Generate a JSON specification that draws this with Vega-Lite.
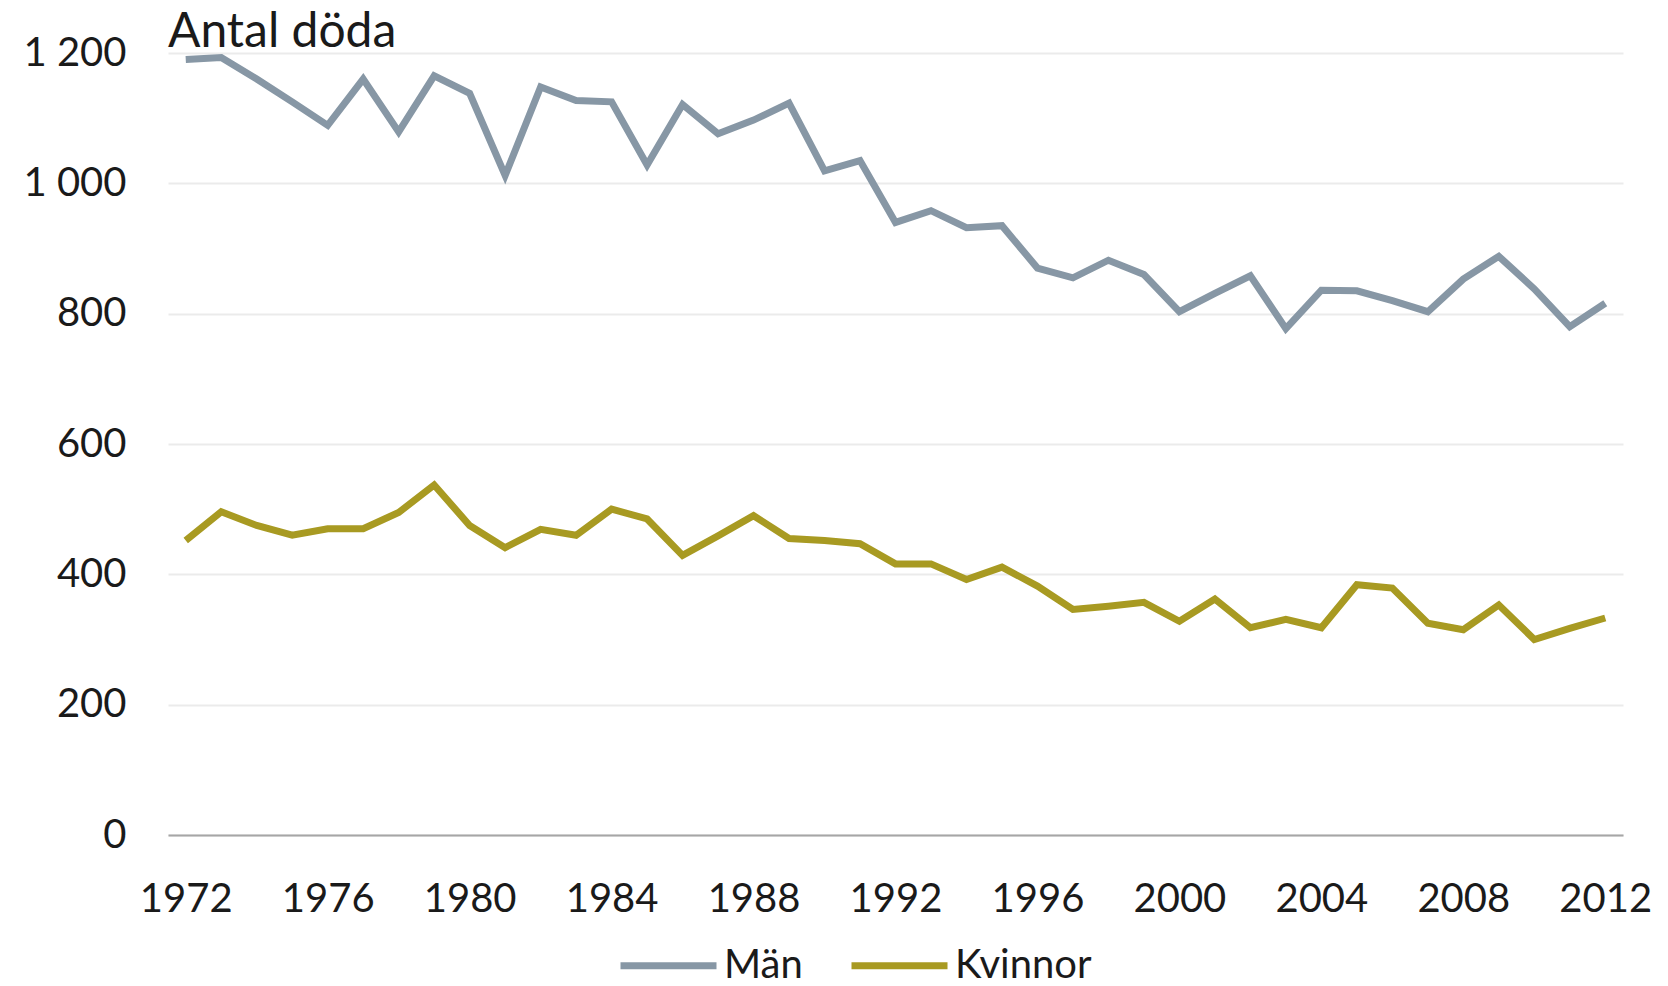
{
  "$schema": "https://vega.github.io/schema/vega-lite/v6.json",
  "autosize": {"type": "none"},
  "width": 1455,
  "height": 782,
  "padding": {"left": 168, "top": 53, "right": 45, "bottom": 151},
  "background": "white",
  "title": {"text": "Antal döda", "anchor": "start", "frame": "group", "offset": -24, "font": "Lato", "fontSize": 48, "fontWeight": "normal", "color": "#1a1a1a"},
  "config": {
    "view": {"stroke": null},
    "font": "Lato"
  },
  "data": {
    "values": [
      {"year": 1972, "kon": "Män", "antal": 1190},
      {"year": 1973, "kon": "Män", "antal": 1193},
      {"year": 1974, "kon": "Män", "antal": 1160},
      {"year": 1975, "kon": "Män", "antal": 1125},
      {"year": 1976, "kon": "Män", "antal": 1089},
      {"year": 1977, "kon": "Män", "antal": 1160},
      {"year": 1978, "kon": "Män", "antal": 1079},
      {"year": 1979, "kon": "Män", "antal": 1165},
      {"year": 1980, "kon": "Män", "antal": 1138},
      {"year": 1981, "kon": "Män", "antal": 1012},
      {"year": 1982, "kon": "Män", "antal": 1148},
      {"year": 1983, "kon": "Män", "antal": 1127},
      {"year": 1984, "kon": "Män", "antal": 1125},
      {"year": 1985, "kon": "Män", "antal": 1028},
      {"year": 1986, "kon": "Män", "antal": 1121},
      {"year": 1987, "kon": "Män", "antal": 1076},
      {"year": 1988, "kon": "Män", "antal": 1097},
      {"year": 1989, "kon": "Män", "antal": 1123},
      {"year": 1990, "kon": "Män", "antal": 1019},
      {"year": 1991, "kon": "Män", "antal": 1035},
      {"year": 1992, "kon": "Män", "antal": 940},
      {"year": 1993, "kon": "Män", "antal": 958},
      {"year": 1994, "kon": "Män", "antal": 932},
      {"year": 1995, "kon": "Män", "antal": 935},
      {"year": 1996, "kon": "Män", "antal": 870},
      {"year": 1997, "kon": "Män", "antal": 855},
      {"year": 1998, "kon": "Män", "antal": 882},
      {"year": 1999, "kon": "Män", "antal": 860},
      {"year": 2000, "kon": "Män", "antal": 803},
      {"year": 2001, "kon": "Män", "antal": 831},
      {"year": 2002, "kon": "Män", "antal": 858},
      {"year": 2003, "kon": "Män", "antal": 777},
      {"year": 2004, "kon": "Män", "antal": 836},
      {"year": 2005, "kon": "Män", "antal": 835},
      {"year": 2006, "kon": "Män", "antal": 820},
      {"year": 2007, "kon": "Män", "antal": 803},
      {"year": 2008, "kon": "Män", "antal": 853},
      {"year": 2009, "kon": "Män", "antal": 888},
      {"year": 2010, "kon": "Män", "antal": 838},
      {"year": 2011, "kon": "Män", "antal": 780},
      {"year": 2012, "kon": "Män", "antal": 816},
      {"year": 1972, "kon": "Kvinnor", "antal": 452},
      {"year": 1973, "kon": "Kvinnor", "antal": 496},
      {"year": 1974, "kon": "Kvinnor", "antal": 475},
      {"year": 1975, "kon": "Kvinnor", "antal": 460},
      {"year": 1976, "kon": "Kvinnor", "antal": 470},
      {"year": 1977, "kon": "Kvinnor", "antal": 470},
      {"year": 1978, "kon": "Kvinnor", "antal": 495},
      {"year": 1979, "kon": "Kvinnor", "antal": 537},
      {"year": 1980, "kon": "Kvinnor", "antal": 475},
      {"year": 1981, "kon": "Kvinnor", "antal": 441},
      {"year": 1982, "kon": "Kvinnor", "antal": 469},
      {"year": 1983, "kon": "Kvinnor", "antal": 460},
      {"year": 1984, "kon": "Kvinnor", "antal": 500},
      {"year": 1985, "kon": "Kvinnor", "antal": 485},
      {"year": 1986, "kon": "Kvinnor", "antal": 429},
      {"year": 1987, "kon": "Kvinnor", "antal": 459},
      {"year": 1988, "kon": "Kvinnor", "antal": 490},
      {"year": 1989, "kon": "Kvinnor", "antal": 455},
      {"year": 1990, "kon": "Kvinnor", "antal": 452},
      {"year": 1991, "kon": "Kvinnor", "antal": 447},
      {"year": 1992, "kon": "Kvinnor", "antal": 416},
      {"year": 1993, "kon": "Kvinnor", "antal": 416},
      {"year": 1994, "kon": "Kvinnor", "antal": 392},
      {"year": 1995, "kon": "Kvinnor", "antal": 411},
      {"year": 1996, "kon": "Kvinnor", "antal": 382},
      {"year": 1997, "kon": "Kvinnor", "antal": 346},
      {"year": 1998, "kon": "Kvinnor", "antal": 351},
      {"year": 1999, "kon": "Kvinnor", "antal": 357},
      {"year": 2000, "kon": "Kvinnor", "antal": 328},
      {"year": 2001, "kon": "Kvinnor", "antal": 362},
      {"year": 2002, "kon": "Kvinnor", "antal": 318},
      {"year": 2003, "kon": "Kvinnor", "antal": 331},
      {"year": 2004, "kon": "Kvinnor", "antal": 318},
      {"year": 2005, "kon": "Kvinnor", "antal": 384},
      {"year": 2006, "kon": "Kvinnor", "antal": 379},
      {"year": 2007, "kon": "Kvinnor", "antal": 325},
      {"year": 2008, "kon": "Kvinnor", "antal": 315},
      {"year": 2009, "kon": "Kvinnor", "antal": 353},
      {"year": 2010, "kon": "Kvinnor", "antal": 300},
      {"year": 2011, "kon": "Kvinnor", "antal": 317},
      {"year": 2012, "kon": "Kvinnor", "antal": 333}
    ]
  },
  "mark": {"type": "line", "strokeWidth": 7, "strokeJoin": "miter"},
  "encoding": {
    "x": {
      "field": "year",
      "type": "ordinal",
      "sort": "ascending",
      "scale": {"type": "point", "padding": 0.5},
      "axis": {
        "title": null,
        "values": [1972, 1976, 1980, 1984, 1988, 1992, 1996, 2000, 2004, 2008, 2012],
        "labelAngle": 0,
        "labelFont": "Lato",
        "labelFontSize": 40,
        "labelColor": "#1a1a1a",
        "labelPadding": 44,
        "ticks": false,
        "domain": true,
        "domainColor": "#a6a6a6",
        "domainWidth": 2,
        "grid": false
      }
    },
    "y": {
      "field": "antal",
      "type": "quantitative",
      "scale": {"domain": [0, 1200], "nice": false},
      "axis": {
        "title": null,
        "values": [0, 200, 400, 600, 800, 1000, 1200],
        "labelExpr": "replace(format(datum.value, ','), ',', ' ')",
        "labelFont": "Lato",
        "labelFontSize": 40,
        "labelColor": "#1a1a1a",
        "labelPadding": 42,
        "ticks": false,
        "domain": false,
        "grid": true,
        "gridColor": "#ebebeb",
        "gridWidth": 2
      }
    },
    "color": {
      "field": "kon",
      "type": "nominal",
      "scale": {"domain": ["Män", "Kvinnor"], "range": ["#8797a5", "#a89a22"]},
      "legend": {
        "title": null,
        "orient": "none",
        "legendX": 449,
        "legendY": 861,
        "direction": "horizontal",
        "symbolType": "stroke",
        "symbolSize": 9216,
        "symbolStrokeWidth": 7,
        "labelFont": "Lato",
        "labelFontSize": 40,
        "labelColor": "#1a1a1a",
        "labelOffset": 4,
        "columnPadding": 34
      }
    }
  }
}
